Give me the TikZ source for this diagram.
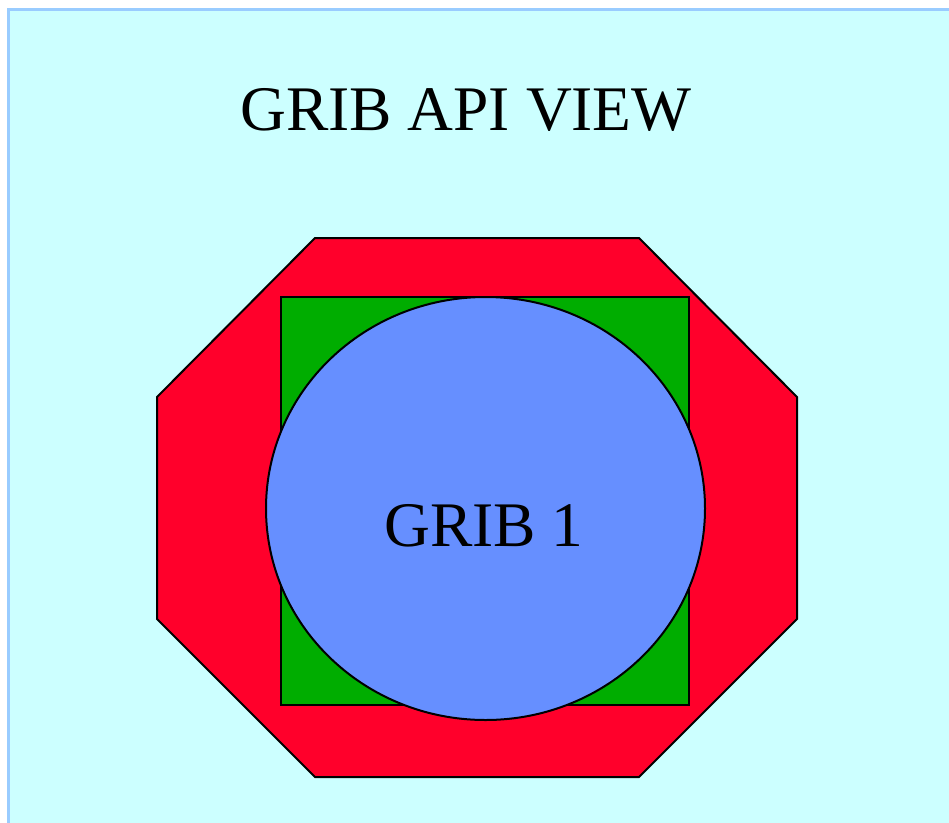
\documentclass[tikz,border=0pt]{standalone}
\usepackage{fontspec}
\setmainfont{Liberation Serif}
\definecolor{bgcyan}{HTML}{CCFFFF}
\definecolor{bordblue}{HTML}{99CCFF}
\definecolor{octred}{HTML}{FF002B}
\definecolor{sqgreen}{HTML}{00AD00}
\definecolor{cirblue}{HTML}{668FFF}
\tikzset{shapeline/.style={draw=black, line width=2pt, line join=miter},
  bigtext/.style={font=\fontsize{63.5}{70}\selectfont, inner sep=0pt, anchor=base}}
\begin{document}
\begin{tikzpicture}[x=1pt,y=-1pt]
\useasboundingbox (0,0) rectangle (949,822);
\begin{scope}
\clip (0,0) rectangle (949,822);
\filldraw[fill=bgcyan, draw=bordblue, line width=3pt] (8,9) rectangle (980,850);
\end{scope}
\node[bigtext] (title) at (466,130) {GRIB API VIEW};
\filldraw[shapeline, fill=octred] (315,238) -- (639,238) -- (797,397) -- (797,619) -- (639,777) -- (315,777) -- (157,619) -- (157,397) -- cycle;
\filldraw[shapeline, fill=sqgreen] (281,297) rectangle (689,705);
\filldraw[shapeline, fill=cirblue] (485.5,508.5) ellipse [x radius=219.5, y radius=211.5];
\node[bigtext] (label) at (484,546) {GRIB 1};
\end{tikzpicture}
\end{document}
